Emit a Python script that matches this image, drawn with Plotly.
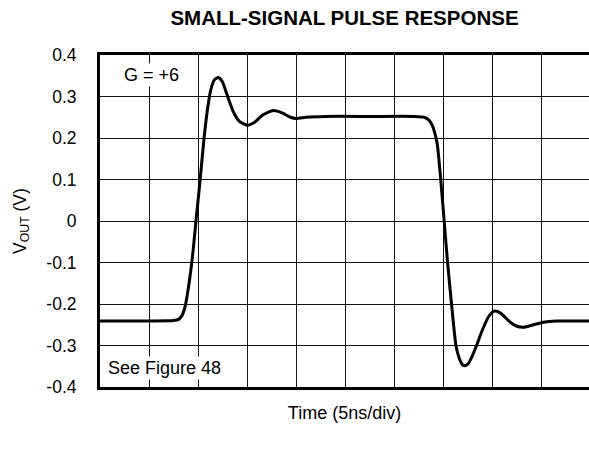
import plotly.graph_objects as go

# Time axis in divisions (5 ns per division) and output voltage in volts
time_div = [0.0, 1.0, 1.5, 1.60, 1.67, 1.72, 1.745, 1.87, 1.955, 2.04, 2.12,
            2.19, 2.26, 2.33, 2.41, 2.49, 2.56, 2.63, 2.72, 2.84, 3.0, 3.15,
            3.32, 3.53, 3.72, 3.88, 4.0, 4.2, 4.6, 5.5, 6.4, 6.60, 6.70, 6.77,
            6.82, 6.87, 6.94, 7.01, 7.08, 7.16, 7.25, 7.32, 7.38, 7.43, 7.50,
            7.58, 7.67, 7.80, 7.93, 8.04, 8.16, 8.32, 8.48, 8.62, 8.80, 9.03,
            9.3, 9.96]
v_out = [-0.241, -0.241, -0.240, -0.237, -0.228, -0.212, -0.200, -0.100, 0.000,
         0.100, 0.200, 0.270, 0.318, 0.340, 0.346, 0.336, 0.314, 0.290, 0.262,
         0.240, 0.231, 0.238, 0.256, 0.266, 0.260, 0.250, 0.247, 0.250, 0.252,
         0.252, 0.252, 0.250, 0.243, 0.230, 0.212, 0.185, 0.100, 0.000, -0.100,
         -0.200, -0.300, -0.332, -0.346, -0.349, -0.344, -0.326, -0.300, -0.259,
         -0.228, -0.217, -0.222, -0.240, -0.253, -0.256, -0.251, -0.244, -0.241,
         -0.241]

y_ticks = [0.4, 0.3, 0.2, 0.1, 0.0, -0.1, -0.2, -0.3, -0.4]
y_tick_text = ["0.4", "0.3", "0.2", "0.1", "0", "-0.1", "-0.2", "-0.3", "-0.4"]

FONT = "Liberation Sans, Arial, sans-serif"

fig = go.Figure()
fig.add_trace(go.Scatter(
    x=time_div, y=v_out, mode="lines",
    line=dict(color="black", width=3, shape="spline", smoothing=0.6),
    hoverinfo="skip", showlegend=False,
))

fig.update_layout(
    width=589, height=456,
    margin=dict(l=100, r=0, t=55, b=69),
    paper_bgcolor="white", plot_bgcolor="white",
    font=dict(family=FONT, color="black"),
    title=dict(text="<b>SMALL-SIGNAL PULSE RESPONSE</b>",
               x=0.5, xref="paper", xanchor="center",
               y=1 - 18 / 456, yref="container", yanchor="middle",
               font=dict(size=20.5, family=FONT, color="black")),
    xaxis=dict(range=[0, 9.96], dtick=1, tick0=0,
               showgrid=True, gridcolor="#111111", gridwidth=1.2,
               zeroline=False, showticklabels=False, ticks="",
               showline=True, linecolor="black", linewidth=3, mirror=True,
               title=dict(text="Time (5ns/div)", standoff=18,
                          font=dict(size=18, family=FONT))),
    yaxis=dict(range=[-0.4, 0.4], tickvals=y_ticks, ticktext=y_tick_text,
               showgrid=True, gridcolor="#111111", gridwidth=1.2,
               zeroline=False, ticks="", ticklabelstandoff=17,
               tickfont=dict(size=17.5, family=FONT),
               showline=True, linecolor="black", linewidth=3, mirror=False,
               title=dict(text="V<sub>OUT</sub> (V)", standoff=16,
                          font=dict(size=17.5, family=FONT))),
    annotations=[
        dict(text="G = +6", x=0.046, y=0.94, xref="paper", yref="paper",
             xanchor="left", yanchor="middle", showarrow=False,
             font=dict(size=18, family=FONT), bgcolor="white"),
        dict(text="See Figure 48", x=0.012, y=0.057, xref="paper", yref="paper",
             xanchor="left", yanchor="middle", showarrow=False,
             font=dict(size=18, family=FONT), bgcolor="white"),
    ],
)

fig.write_html("out.html")
